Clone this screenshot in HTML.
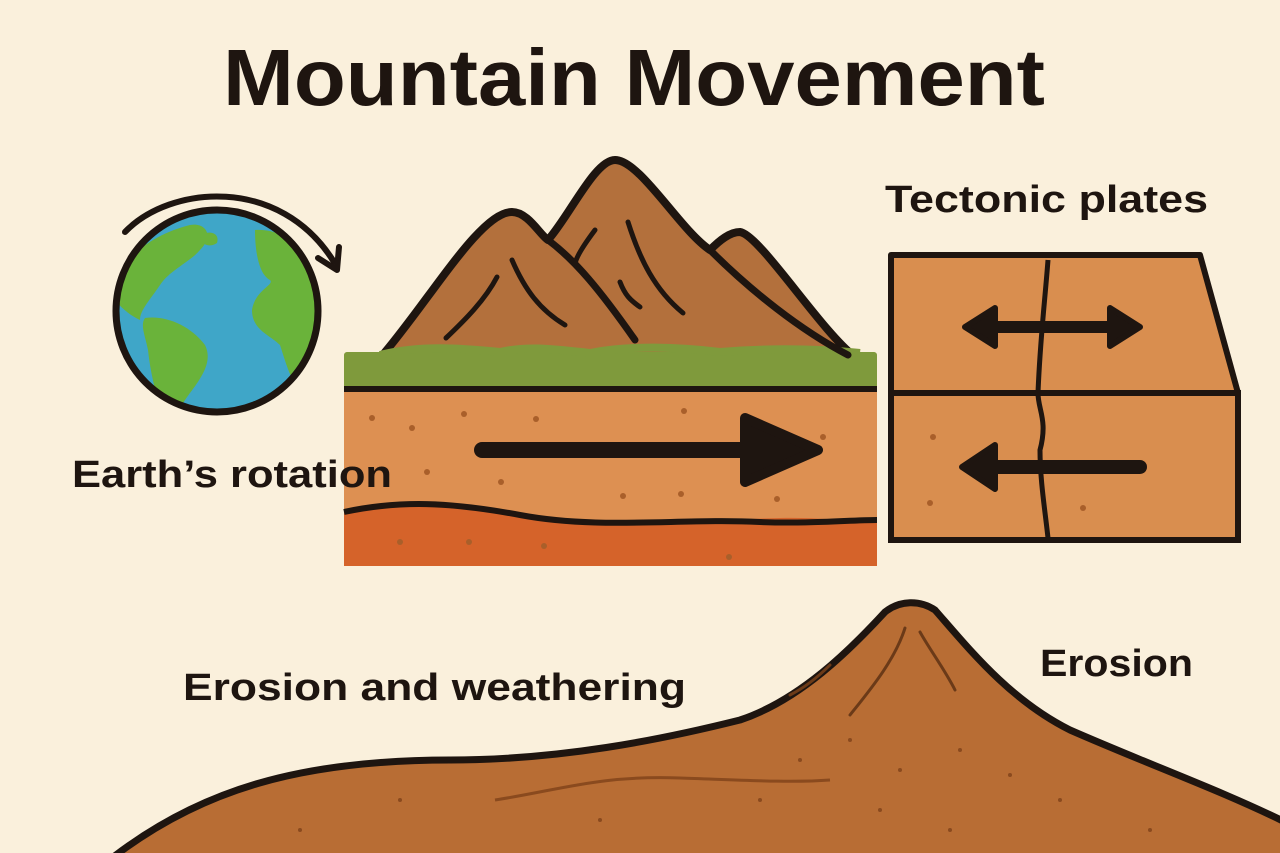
<!DOCTYPE html>
<html><head><meta charset="utf-8"><style>
body{margin:0;background:#faf0dc;}
svg{display:block}
text{font-family:"Liberation Sans",sans-serif;font-weight:bold;fill:#1e1510}
</style></head><body>
<svg width="1280" height="853" viewBox="0 0 1280 853">
<rect width="1280" height="853" fill="#faf0dc"/>
<text x="634" y="105" font-size="80" text-anchor="middle" textLength="822" lengthAdjust="spacingAndGlyphs">Mountain Movement</text>

<!-- globe -->
<circle cx="217" cy="311" r="101" fill="#3fa6c8"/>
<clipPath id="gc"><circle cx="217" cy="311" r="101"/></clipPath>
<g clip-path="url(#gc)" fill="#6ab33a">
<path d="M110 290 C120 260 150 235 190 225 C205 222 215 235 200 250 C190 262 170 270 160 285 C150 300 140 310 140 320 C130 315 115 305 110 290 Z"/>
<path d="M145 318 C165 315 190 325 205 345 C215 365 195 385 185 400 C175 415 168 420 160 410 C155 390 150 370 148 350 C145 335 140 325 145 318 Z"/>
<path d="M255 230 C280 228 305 245 318 275 C325 300 320 340 300 390 C290 380 285 360 280 345 C270 335 252 330 252 310 C255 290 275 285 270 280 C260 275 255 255 255 230 Z"/>
<path d="M200 235 C210 230 220 233 217 243 C210 248 200 245 200 235Z"/>
</g>
<circle cx="217" cy="311" r="101" fill="none" stroke="#1e1510" stroke-width="7"/>
<path d="M125 232 C170 185 280 175 334 262" fill="none" stroke="#1e1510" stroke-width="6" stroke-linecap="round"/>
<path d="M318 258 L337 270 L339 247" fill="none" stroke="#1e1510" stroke-width="6" stroke-linecap="round" stroke-linejoin="round"/>

<!-- block -->
<rect x="344" y="352" width="533" height="214" rx="4" fill="#dd9052"/>
<path d="M344 510 C400 500 450 500 520 515 C600 530 700 520 780 518 C820 517 850 522 877 520 L877 566 L344 566 Z" fill="#d5632a"/>
<path d="M344 512 C400 500 450 502 520 515 C600 530 680 518 760 522 C810 524 850 520 877 520" fill="none" stroke="#1e1510" stroke-width="6"/>
<path d="M381 357 C430 300 480 212 512 212 C528 212 540 235 548 240 C570 215 595 160 615 160 C640 160 680 230 710 250 C720 240 730 232 740 232 C760 235 820 330 855 357 Z" fill="#b3703c" stroke="#1e1510" stroke-width="8" stroke-linejoin="round"/>
<rect x="344" y="352" width="533" height="36" rx="3" fill="#7f9a3c"/>
<path d="M380 355 C420 345 460 348 500 352 C530 345 560 350 590 353 C630 345 680 347 720 352 C780 347 830 350 860 353" fill="none" stroke="#7f9a3c" stroke-width="8"/>
<line x1="344" y1="389" x2="877" y2="389" stroke="#1e1510" stroke-width="6"/>
<path d="M548 240 C575 260 600 290 635 340" fill="none" stroke="#1e1510" stroke-width="7" stroke-linecap="round"/>
<path d="M710 250 C750 290 800 330 848 355" fill="none" stroke="#1e1510" stroke-width="7" stroke-linecap="round"/>
<path d="M512 260 C525 290 540 310 565 325 M497 277 C485 300 465 320 446 338 M628 222 C640 260 655 290 683 313 M595 230 C580 250 575 260 575 265 M620 282 C625 295 630 300 640 307" fill="none" stroke="#1e1510" stroke-width="5" stroke-linecap="round"/>
<g fill="#a95f2a">
<circle cx="372" cy="418" r="3"/><circle cx="412" cy="428" r="3"/><circle cx="464" cy="414" r="3"/><circle cx="536" cy="419" r="3"/><circle cx="684" cy="411" r="3"/><circle cx="823" cy="437" r="3"/><circle cx="427" cy="472" r="3"/><circle cx="501" cy="482" r="3"/><circle cx="623" cy="496" r="3"/><circle cx="681" cy="494" r="3"/><circle cx="777" cy="499" r="3"/><circle cx="400" cy="542" r="3"/><circle cx="469" cy="542" r="3"/><circle cx="544" cy="546" r="3"/><circle cx="729" cy="557" r="3"/>
</g>
<line x1="482" y1="450" x2="800" y2="450" stroke="#1e1510" stroke-width="16" stroke-linecap="round"/>
<path d="M745 418 L818 450 L745 482 Z" fill="#1e1510" stroke="#1e1510" stroke-width="10" stroke-linejoin="round"/>
<text x="72" y="487" font-size="38" textLength="320" lengthAdjust="spacingAndGlyphs">Earth’s rotation</text>

<!-- tectonic -->
<text x="885" y="212" font-size="38" textLength="323" lengthAdjust="spacingAndGlyphs">Tectonic plates</text>
<path d="M891 255 L1200 255 L1238 393 L891 393 Z" fill="#d98e4f" stroke="#1e1510" stroke-width="6" stroke-linejoin="round"/>
<rect x="891" y="393" width="347" height="147" fill="#d98e4f" stroke="#1e1510" stroke-width="6"/>
<path d="M1048 260 C1045 300 1040 340 1038 393 C1038 410 1048 420 1040 450 C1040 480 1045 510 1048 538" fill="none" stroke="#1e1510" stroke-width="5"/>
<line x1="985" y1="327" x2="1120" y2="327" stroke="#1e1510" stroke-width="12" stroke-linecap="round"/>
<path d="M995 308 L965 327 L995 346 Z M1110 308 L1140 327 L1110 346 Z" fill="#1e1510" stroke="#1e1510" stroke-width="6" stroke-linejoin="round"/>
<line x1="985" y1="467" x2="1140" y2="467" stroke="#1e1510" stroke-width="14" stroke-linecap="round"/>
<path d="M995 445 L962 467 L995 489 Z" fill="#1e1510" stroke="#1e1510" stroke-width="6" stroke-linejoin="round"/>
<g fill="#a95f2a"><circle cx="933" cy="437" r="3"/><circle cx="930" cy="503" r="3"/><circle cx="1083" cy="508" r="3"/></g>

<!-- bottom hill -->
<path d="M112 858 C200 790 300 760 450 760 C560 760 660 740 740 720 C800 700 850 650 885 612 C900 600 920 600 935 610 C970 650 1010 700 1070 730 C1150 765 1220 790 1285 822 L1285 860 L112 860 Z" fill="#b86d34" stroke="#1e1510" stroke-width="7" stroke-linejoin="round"/>
<path d="M495 800 C560 790 600 775 680 778 C740 780 790 783 830 780" fill="none" stroke="#8a4a1e" stroke-width="3"/>
<path d="M905 628 C895 660 870 690 850 715 M920 632 C930 650 945 670 955 690 M830 665 C815 680 800 690 790 695" fill="none" stroke="#6b3a18" stroke-width="3" stroke-linecap="round"/>
<g fill="#8a4a1e"><circle cx="800" cy="760" r="2"/><circle cx="850" cy="740" r="2"/><circle cx="900" cy="770" r="2"/><circle cx="960" cy="750" r="2"/><circle cx="1010" cy="775" r="2"/><circle cx="760" cy="800" r="2"/><circle cx="880" cy="810" r="2"/><circle cx="1060" cy="800" r="2"/><circle cx="600" cy="820" r="2"/><circle cx="400" cy="800" r="2"/><circle cx="300" cy="830" r="2"/><circle cx="950" cy="830" r="2"/><circle cx="1150" cy="830" r="2"/></g>
<text x="183" y="700" font-size="38" textLength="503" lengthAdjust="spacingAndGlyphs">Erosion and weathering</text>
<text x="1040" y="676" font-size="38" textLength="153" lengthAdjust="spacingAndGlyphs">Erosion</text>
</svg>
</body></html>
